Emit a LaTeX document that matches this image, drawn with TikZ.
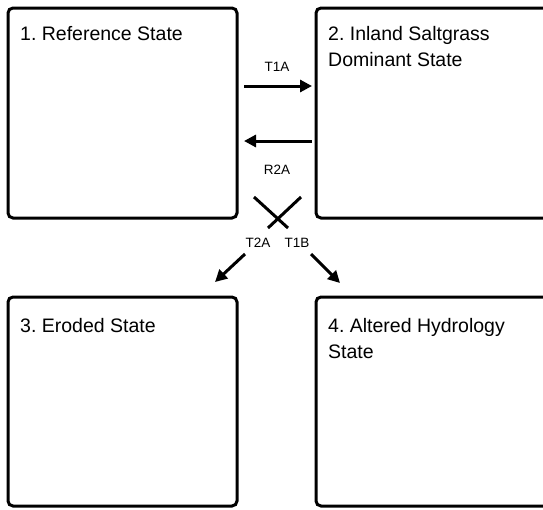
\documentclass[tikz,border=0pt]{standalone}
\usepackage{fontspec}
\setmainfont{Liberation Sans}
\usetikzlibrary{calc,arrows.meta}
\frenchspacing

\begin{document}
\begin{tikzpicture}[x=1pt,y=-1pt,
	statebox/.style={draw,line width=3pt,rounded corners=5pt,outer sep=0pt,inner sep=0pt,anchor=north west},
	statetext/.style={anchor=north west,inner sep=0pt,align=left,font=\fontsize{19.5}{26}\selectfont},
	translabel/.style={inner sep=0pt,font=\fontsize{13.5}{16}\selectfont},
	trans/.style={line width=3pt,-{Triangle[length=12pt,width=12pt]}},
	crossline/.style={line width=3pt}]
	\clip (0,0) rectangle (543,509);

	% states
	\node[statebox,minimum width=229pt,minimum height=210pt] (s1) at (8,8){};
	\node[statebox,minimum width=250pt,minimum height=210pt] (s2) at (316,8){};
	\node[statebox,minimum width=229pt,minimum height=209pt] (s3) at (8,297){};
	\node[statebox,minimum width=250pt,minimum height=209pt] (s4) at (316,297){};

	\node[statetext] (s1name) at ($(s1.north west)+(12,18)$) {1. Reference State};
	\node[statetext] (s2name) at ($(s2.north west)+(12,18)$) {2. Inland Saltgrass\\Dominant State};
	\node[statetext] (s3name) at ($(s3.north west)+(12,21)$) {3. Eroded State};
	\node[statetext] (s4name) at ($(s4.north west)+(12,21)$) {4. Altered Hydrology\\State};

	% transitions
	\node[translabel] (t1a) at (277,67) {T1A};
	\node[translabel] (r2a) at (277,170) {R2A};
	\node[translabel] (t2a) at (258,243) {T2A};
	\node[translabel] (t1b) at (297,243) {T1B};

	\draw[trans] ($(s1.east)+(7,-27)$) -- ($(s2.west)+(-4,-27)$);
	\draw[trans] ($(s2.west)+(-4,28)$) -- ($(s1.east)+(7,28)$);

	\draw[crossline] ($(s1.south east)+(17,-21)$) -- ($(s1.south east)+(51,10)$);
	\draw[crossline] ($(s2.south west)+(-15,-21)$) -- ($(s2.south west)+(-48,10)$);
	\draw[trans] ($(s1.south east)+(8,36)$) -- ($(s3.north east)+(-22,-15)$);
	\draw[trans] ($(s2.south west)+(-5,36)$) -- ($(s4.north west)+(24,-14)$);
\end{tikzpicture}
\end{document}
